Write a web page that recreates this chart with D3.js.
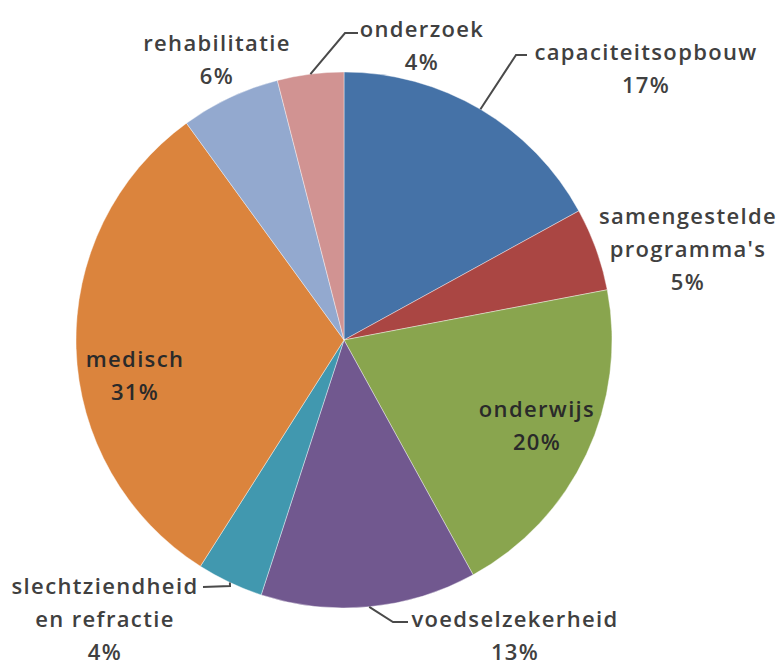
<!DOCTYPE html>
<html>
<head>
<meta charset="utf-8">
<script src="https://cdn.jsdelivr.net/npm/d3@7"></script>
<style>
  html, body { margin: 0; padding: 0; background: #fff; }
  #chart { width: 779px; height: 667px; }
  .pie-label { font-family: "Open Sans", sans-serif; font-weight: 600; font-size: 22px; letter-spacing: 1.35px; }
</style>
</head>
<body>
<div id="chart" class="js-pie"></div>
<script>
// data (clockwise from 12 o'clock)
const categories = [`capaciteitsopbouw`, `samengestelde programma's`, `onderwijs`, `voedselzekerheid`,
  `slechtziendheid en refractie`, `medisch`, `rehabilitatie`, `onderzoek`];
const values = [17, 5, 20, 13, 4, 31, 6, 4];

// styling / layout, kept apart from the data
const palette = [`#4572A7`, `#AA4643`, `#89A54E`, `#71588F`, `#4198AF`, `#DB843D`, `#93A9CF`, `#D19392`];
const insideLabels = [`onderwijs`, `medisch`];
const labelLayout = {
  [`capaciteitsopbouw`]: {x: 646, y: 52, leader: [[516, 55], [527, 55]]},
  [`samengestelde programma's`]: {x: 688, y: 216},
  [`onderwijs`]: {x: 537, y: 409},
  [`voedselzekerheid`]: {x: 515, y: 619, leader: [[393, 622], [408, 622]]},
  [`slechtziendheid en refractie`]: {x: 105, y: 586, leader: [[230, 586], [203, 587]]},
  [`medisch`]: {x: 135, y: 359},
  [`rehabilitatie`]: {x: 217, y: 43},
  [`onderzoek`]: {x: 422, y: 29, leader: [[345, 33], [358, 33]]},
};

class Pie {
  constructor(el) {
    this.el = el;
    this.width = 779;
    this.height = 667;
    this.center = {x: 344, y: 340};
    this.radius = 268;
    this.lineHeight = 33;
    this.svg = d3.select(this.el)
      .append(`svg`)
        .attr(`width`, this.width)
        .attr(`height`, this.height);
    this.g = this.svg.append(`g`)
      .attr(`transform`, `translate(${this.center.x},${this.center.y})`);
  }

  render() {
    const data = categories.map((name, i) => ({name, value: values[i], color: palette[i]}));

    const pie = d3.pie()
      .sort(null)
      .value(d => d.value);

    const arc = d3.arc()
      .innerRadius(0)
      .outerRadius(this.radius);

    const edge = d3.arc()
      .innerRadius(this.radius)
      .outerRadius(this.radius);

    const arcs = pie(data);

    this.g.selectAll(`.slice`)
      .data(arcs)
      .enter().append(`path`)
        .attr(`class`, `slice`)
        .attr(`d`, arc)
        .attr(`fill`, d => d.data.color)
        .attr(`stroke`, `rgba(255,255,255,0.5)`)
        .attr(`stroke-width`, 0.8);

    // leader lines: from the slice edge at its mid angle to the label
    const line = d3.line();
    this.svg.selectAll(`.leader`)
      .data(arcs.filter(d => labelLayout[d.data.name].leader))
      .enter().append(`path`)
        .attr(`class`, `leader`)
        .attr(`fill`, `none`)
        .attr(`stroke`, `#4a4a4a`)
        .attr(`stroke-width`, 2)
        .attr(`d`, d => {
          const [ex, ey] = edge.centroid(d);
          const start = [this.center.x + ex, this.center.y + ey];
          return line([start, ...labelLayout[d.data.name].leader]);
        });

    const labels = this.svg.selectAll(`.pie-label`)
      .data(arcs)
      .enter().append(`text`)
        .attr(`class`, `pie-label`)
        .attr(`text-anchor`, `middle`)
        .attr(`fill`, d => insideLabels.includes(d.data.name) ? `#2a2a2a` : `#404040`);

    labels.each((d, i, nodes) => {
      const pos = labelLayout[d.data.name];
      const name = d.data.name;
      const cut = name.length > 16 ? name.indexOf(` `) : -1;
      const lines = cut > 0 ? [name.slice(0, cut), name.slice(cut + 1)] : [name];
      lines.push(`${d.data.value}%`);
      d3.select(nodes[i]).selectAll(`tspan`)
        .data(lines)
        .enter().append(`tspan`)
          .attr(`x`, pos.x)
          .attr(`y`, (t, j) => pos.y + j * this.lineHeight)
          .attr(`dy`, `0.36em`)
          .text(t => t);
    });
  }
}

new Pie(`#chart`).render();
</script>
</body>
</html>
